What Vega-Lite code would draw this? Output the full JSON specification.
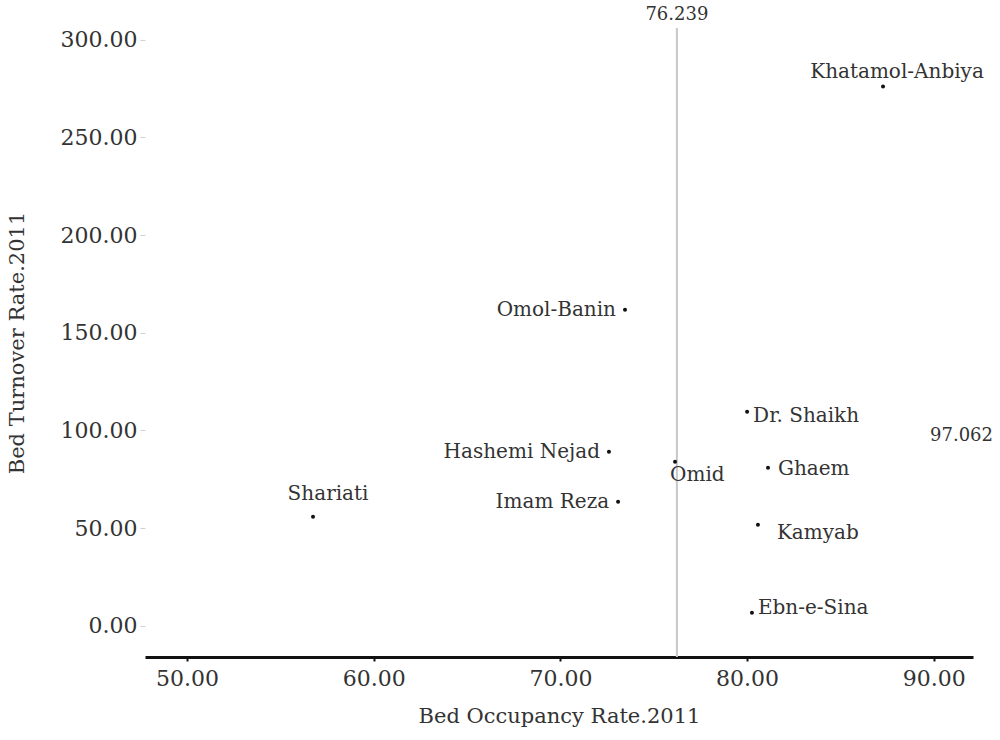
{
  "$schema": "https://vega.github.io/schema/vega-lite/v6.json",
  "autosize": {"type": "none"},
  "padding": {"left": 145, "top": 28, "right": 27, "bottom": 83},
  "width": 828,
  "height": 629,
  "background": "white",
  "config": {
    "view": {"stroke": null},
    "font": "DejaVu Serif",
    "text": {"font": "DejaVu Serif", "fontSize": 20, "color": "#333333"}
  },
  "datasets": {
    "hospitals": [
      {"hospital": "Khatamol-Anbiya", "occupancy": 87.28, "turnover": 276.0},
      {"hospital": "Shariati", "occupancy": 56.75, "turnover": 55.8},
      {"hospital": "Omol-Banin", "occupancy": 73.46, "turnover": 161.8},
      {"hospital": "Hashemi Nejad", "occupancy": 72.6, "turnover": 89.1},
      {"hospital": "Imam Reza", "occupancy": 73.09, "turnover": 63.5},
      {"hospital": "Omid", "occupancy": 76.14, "turnover": 84.0},
      {"hospital": "Dr. Shaikh", "occupancy": 80.0, "turnover": 109.6},
      {"hospital": "Ghaem", "occupancy": 81.12, "turnover": 80.9},
      {"hospital": "Kamyab", "occupancy": 80.58, "turnover": 51.7},
      {"hospital": "Ebn-e-Sina", "occupancy": 80.26, "turnover": 6.7}
    ],
    "means": [
      {"mean_occupancy": 76.239, "mean_turnover": 97.062, "top": 306, "bottom": -16, "right": 92.1}
    ]
  },
  "data": {"name": "hospitals"},
  "encoding": {
    "x": {
      "field": "occupancy", "type": "quantitative",
      "scale": {"domain": [47.75, 92.1], "nice": false, "zero": false},
      "axis": {
        "title": "Bed Occupancy Rate.2011",
        "format": ".2f",
        "values": [50, 60, 70, 80, 90],
        "grid": false,
        "domainColor": "#111111", "domainWidth": 3,
        "tickColor": "#111111", "tickSize": 4, "tickWidth": 2,
        "labelFont": "DejaVu Serif", "labelFontSize": 22, "labelColor": "#333333",
        "labelPadding": 7,
        "titleFont": "DejaVu Serif", "titleFontSize": 21, "titleFontWeight": "normal", "titleColor": "#333333",
        "titlePadding": 16
      }
    },
    "y": {
      "field": "turnover", "type": "quantitative",
      "scale": {"domain": [-16, 306], "nice": false, "zero": false},
      "axis": {
        "title": "Bed Turnover Rate.2011",
        "format": ".2f",
        "values": [0, 50, 100, 150, 200, 250, 300],
        "grid": false,
        "domain": false,
        "tickColor": "#d0d0d0", "tickSize": 5, "tickWidth": 1,
        "labelFont": "DejaVu Serif", "labelFontSize": 22, "labelColor": "#333333",
        "labelPadding": 3,
        "titleFont": "DejaVu Serif", "titleFontSize": 21, "titleFontWeight": "normal", "titleColor": "#333333",
        "titlePadding": 33
      }
    }
  },
  "layer": [
    {
      "data": {"name": "means"},
      "mark": {"type": "rule", "color": "#c8c8c8", "strokeWidth": 2},
      "encoding": {
        "x": {"field": "mean_occupancy", "type": "quantitative"},
        "y": {"field": "top", "type": "quantitative"},
        "y2": {"field": "bottom"}
      }
    },
    {
      "data": {"name": "means"},
      "mark": {"type": "text", "align": "center", "baseline": "middle", "dy": -13, "fontSize": 18},
      "encoding": {
        "x": {"field": "mean_occupancy", "type": "quantitative"},
        "y": {"field": "top", "type": "quantitative"},
        "text": {"field": "mean_occupancy", "type": "quantitative", "format": ".3f"}
      }
    },
    {
      "data": {"name": "means"},
      "mark": {"type": "text", "align": "right", "baseline": "middle", "dx": 20, "fontSize": 18},
      "encoding": {
        "x": {"field": "right", "type": "quantitative"},
        "y": {"field": "mean_turnover", "type": "quantitative"},
        "text": {"field": "mean_turnover", "type": "quantitative", "format": ".3f"}
      }
    },
    {
      "mark": {"type": "point", "filled": true, "size": 16, "color": "#111111", "opacity": 1}
    },
    {
      "transform": [{"filter": "datum.hospital === 'Khatamol-Anbiya'"}],
      "mark": {"type": "text", "align": "center", "baseline": "middle", "dx": 14, "dy": -15},
      "encoding": {"text": {"field": "hospital"}}
    },
    {
      "transform": [{"filter": "datum.hospital === 'Shariati'"}],
      "mark": {"type": "text", "align": "center", "baseline": "middle", "dx": 15, "dy": -23},
      "encoding": {"text": {"field": "hospital"}}
    },
    {
      "transform": [{"filter": "datum.hospital === 'Omol-Banin' || datum.hospital === 'Hashemi Nejad' || datum.hospital === 'Imam Reza'"}],
      "mark": {"type": "text", "align": "right", "baseline": "middle", "dx": -9, "dy": 0},
      "encoding": {"text": {"field": "hospital"}}
    },
    {
      "transform": [{"filter": "datum.hospital === 'Omid'"}],
      "mark": {"type": "text", "align": "left", "baseline": "middle", "dx": -5, "dy": 13},
      "encoding": {"text": {"field": "hospital"}}
    },
    {
      "transform": [{"filter": "datum.hospital === 'Dr. Shaikh'"}],
      "mark": {"type": "text", "align": "left", "baseline": "middle", "dx": 6, "dy": 4},
      "encoding": {"text": {"field": "hospital"}}
    },
    {
      "transform": [{"filter": "datum.hospital === 'Ghaem'"}],
      "mark": {"type": "text", "align": "left", "baseline": "middle", "dx": 10, "dy": 1},
      "encoding": {"text": {"field": "hospital"}}
    },
    {
      "transform": [{"filter": "datum.hospital === 'Kamyab'"}],
      "mark": {"type": "text", "align": "left", "baseline": "middle", "dx": 19, "dy": 8},
      "encoding": {"text": {"field": "hospital"}}
    },
    {
      "transform": [{"filter": "datum.hospital === 'Ebn-e-Sina'"}],
      "mark": {"type": "text", "align": "left", "baseline": "middle", "dx": 6, "dy": -5},
      "encoding": {"text": {"field": "hospital"}}
    }
  ]
}
